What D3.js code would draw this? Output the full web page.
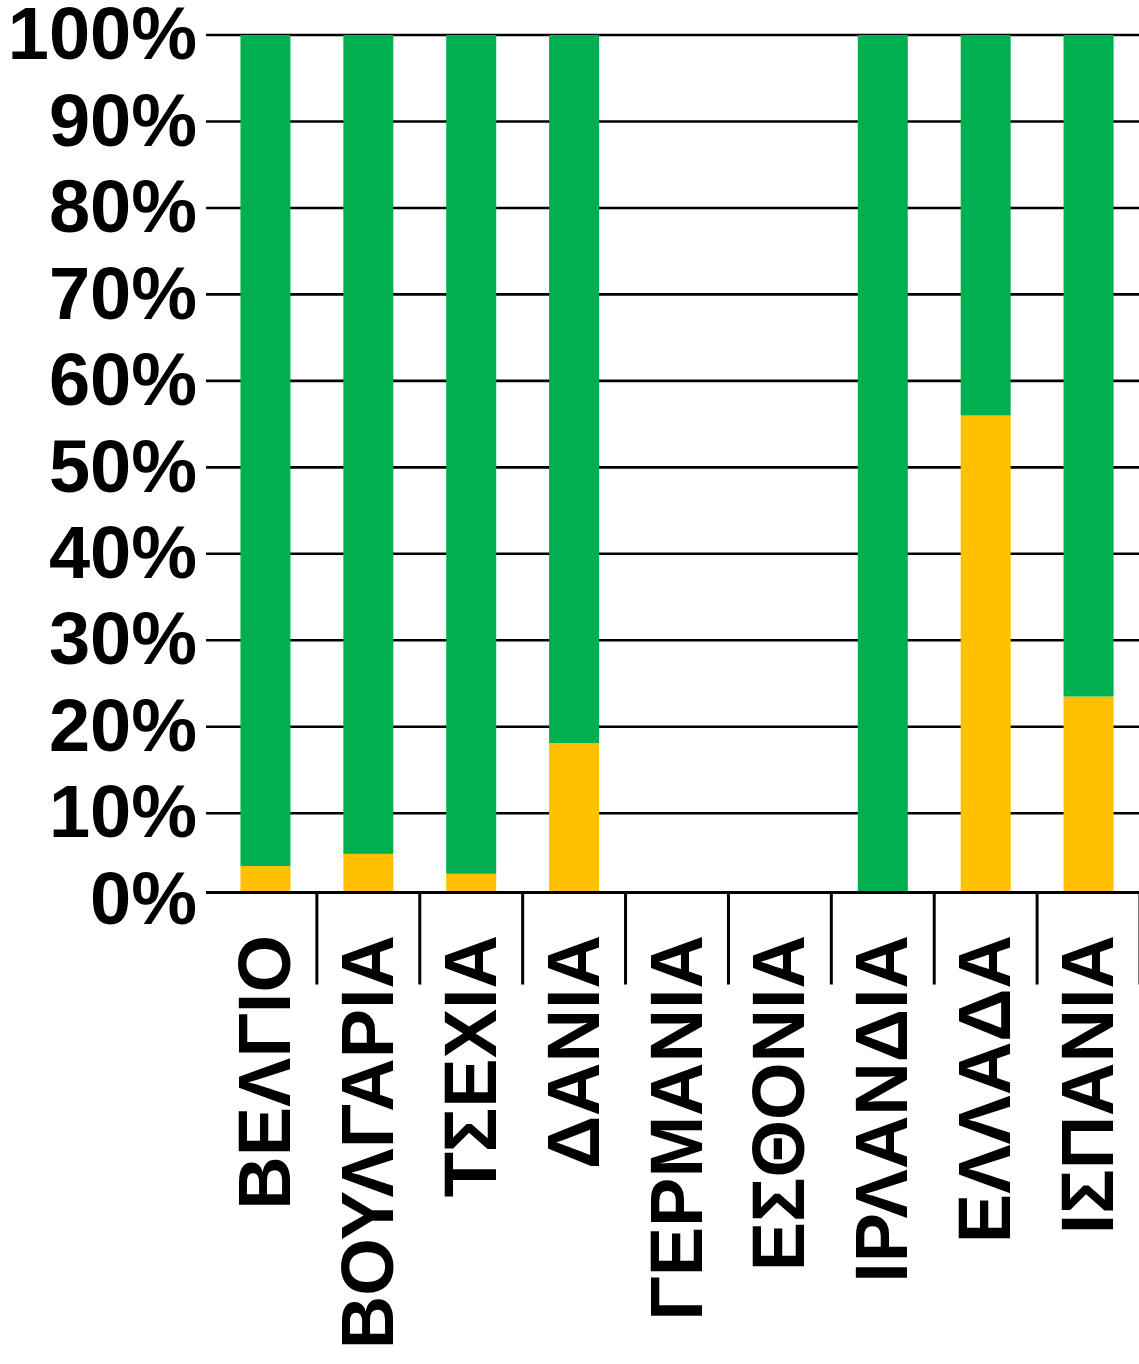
<!DOCTYPE html>
<html>
<head>
<meta charset="utf-8">
<script src="https://cdn.jsdelivr.net/npm/d3@7/dist/d3.min.js"></script>
<style>
  html, body { margin: 0; padding: 0; background: #ffffff; }
  svg { display: block; }
  text { font-family: "Liberation Sans", Arial, sans-serif; font-weight: bold; fill: #000; }
</style>
</head>
<body>
<svg id="chart" width="1139" height="1364"></svg>
<script>
// ---- data ----
const categories = ["ΒΕΛΓΙΟ", "ΒΟΥΛΓΑΡΙΑ", "ΤΣΕΧΙΑ", "ΔΑΝΙΑ", "ΓΕΡΜΑΝΙΑ", "ΕΣΘΟΝΙΑ", "ΙΡΛΑΝΔΙΑ", "ΕΛΛΑΔΑ", "ΙΣΠΑΝΙΑ"];
const yellowValues = [3.9, 5.3, 3.0, 18.1, null, null, 0, 56.0, 23.5];
const greenValues  = [96.1, 94.7, 97.0, 81.9, null, null, 100, 44.0, 76.5];
const yTicks = [0, 10, 20, 30, 40, 50, 60, 70, 80, 90, 100];
const axisCrossValue = 0.83; // category axis crosses slightly above 0

const colors = { yellow: "#FFC000", green: "#00B050" };

const svg = d3.select("#chart");
const W = 1139, H = 1364;

const x = d3.scaleBand().domain(categories).range([214, 1140]).paddingInner(0).paddingOuter(0);
const y = d3.scaleLinear().domain([0, 100]).range([899.7, 35]);
const plotLeft = 206, plotRight = W;
const baseY = y(axisCrossValue);
const barW = 50;

// gridlines
svg.append("g").selectAll("line").data(yTicks.filter(t => t > 0)).join("line")
  .attr("x1", plotLeft).attr("x2", plotRight)
  .attr("y1", d => y(d)).attr("y2", d => y(d))
  .attr("stroke", "#000").attr("stroke-width", 2.6);

// stacked bars
const table = categories.map((c, i) => ({ cat: c, yellow: yellowValues[i], green: greenValues[i] }))
  .filter(d => d.yellow !== null);
const stack = d3.stack().keys(["yellow", "green"])(table);
svg.append("g").selectAll("g").data(stack).join("g")
  .attr("fill", s => colors[s.key])
  .selectAll("rect").data(s => s.filter(d => d[1] - d[0] > 0)).join("rect")
  .attr("x", d => x(d.data.cat) + x.bandwidth() / 2 - barW / 2)
  .attr("width", barW)
  .attr("y", d => y(d[1]))
  .attr("height", d => Math.min(y(d[0]), baseY) - y(d[1]));

// category axis line
svg.append("line")
  .attr("x1", plotLeft).attr("x2", plotRight)
  .attr("y1", baseY).attr("y2", baseY)
  .attr("stroke", "#000").attr("stroke-width", 3);

// category dividers
svg.append("g").selectAll("line").data(categories).join("line")
  .attr("x1", d => x(d) + x.bandwidth()).attr("x2", d => x(d) + x.bandwidth())
  .attr("y1", baseY).attr("y2", baseY + 92)
  .attr("stroke", "#000").attr("stroke-width", 3);

// category labels (rotated)
svg.append("g").selectAll("text").data(categories).join("text")
  .attr("transform", d => `translate(${x(d) + x.bandwidth() / 2 + 24.5},${935}) rotate(-90)`)
  .attr("text-anchor", "end")
  .attr("font-size", 74)
  .text(d => d);

// y axis labels
const yAxis = d3.axisLeft(y).tickValues(yTicks).tickSize(0).tickPadding(9).tickFormat(d => d + "%");
const gy = svg.append("g").attr("transform", `translate(${plotLeft},0)`).call(yAxis);
gy.select(".domain").remove();
gy.selectAll("text").attr("font-size", 74).attr("font-family", "'Liberation Sans', Arial, sans-serif")
  .attr("font-weight", "bold").attr("fill", "#000");
</script>
</body>
</html>
